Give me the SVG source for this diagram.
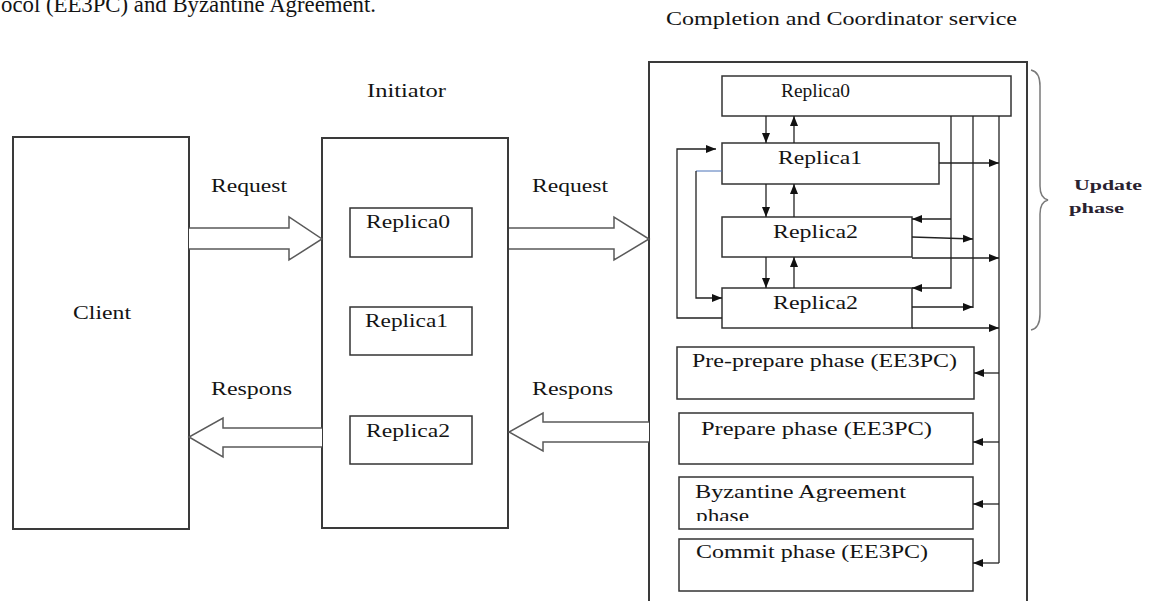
<svg xmlns="http://www.w3.org/2000/svg" width="1159" height="601" viewBox="0 0 1159 601">
  <style>
    text { font-family: "Liberation Serif", "Times New Roman", serif; fill: #141414; }
    .lbl { font-size: 18.5px; }
    .box { fill: #ffffff; stroke: #333333; stroke-width: 1.5; }
    .big { fill: #ffffff; stroke: #3a3a3a; stroke-width: 2; }
    .block { fill: #ffffff; stroke: #5a5a5a; stroke-width: 1.5; stroke-linejoin: miter; }
    .wire { fill: none; stroke: #222222; stroke-width: 1.3; }
    .wire-blue { fill: none; stroke: #4a72b8; stroke-width: 1; }
    .brace { fill: none; stroke: #7a7a7a; stroke-width: 1.5; }
    .upd { font-size: 15.5px; font-weight: bold; fill: #2a2230; }
  </style>
  <defs>
    <marker id="arr" markerUnits="userSpaceOnUse" markerWidth="10" markerHeight="10" viewBox="0 0 10 10" refX="10" refY="5" orient="auto">
      <path d="M0,1 L10,5 L0,9 Z" fill="#111111"/>
    </marker>
    <clipPath id="byzClip">
      <rect x="680" y="478" width="292" height="43"/>
    </clipPath>
  </defs>

  <!-- page text running into the figure from above -->
  <text x="1" y="12" style="font-size:23px" fill="#111" textLength="375" lengthAdjust="spacingAndGlyphs">ocol (EE3PC) and Byzantine Agreement.</text>

  <!-- client -->
  <g id="client">
    <rect class="big" x="13" y="137" width="176" height="392"/>
    <text class="lbl" x="73" y="319" textLength="58" lengthAdjust="spacingAndGlyphs">Client</text>
  </g>

  <!-- initiator with its replicas -->
  <g id="initiator">
    <text class="lbl" x="367" y="97" textLength="79" lengthAdjust="spacingAndGlyphs">Initiator</text>
    <rect class="big" x="322" y="138" width="186" height="390"/>
  </g>
  <g id="init-replica0">
    <rect class="box" x="350" y="208" width="122" height="49"/>
    <text class="lbl" x="366" y="228" textLength="84" lengthAdjust="spacingAndGlyphs">Replica0</text>
  </g>
  <g id="init-replica1">
    <rect class="box" x="350" y="307" width="122" height="48"/>
    <text class="lbl" x="365" y="327" textLength="83" lengthAdjust="spacingAndGlyphs">Replica1</text>
  </g>
  <g id="init-replica2">
    <rect class="box" x="350" y="416" width="122" height="48"/>
    <text class="lbl" x="366" y="437" textLength="84" lengthAdjust="spacingAndGlyphs">Replica2</text>
  </g>

  <!-- completion and coordinator service -->
  <g id="coordinator">
    <text class="lbl" x="666" y="25" textLength="351" lengthAdjust="spacingAndGlyphs">Completion and Coordinator service</text>
    <rect class="big" x="649" y="62" width="378" height="560"/>
  </g>
  <g id="cc-replica0">
    <rect class="box" x="722" y="76" width="289" height="40"/>
    <text class="lbl" x="781" y="97" textLength="69" lengthAdjust="spacingAndGlyphs">Replica0</text>
  </g>
  <g id="cc-replica1">
    <rect class="box" x="722" y="143" width="217" height="41"/>
    <text class="lbl" x="778" y="164" textLength="84" lengthAdjust="spacingAndGlyphs">Replica1</text>
  </g>
  <g id="cc-replica2a">
    <rect class="box" x="722" y="217" width="190" height="40"/>
    <text class="lbl" x="773" y="238" textLength="85" lengthAdjust="spacingAndGlyphs">Replica2</text>
  </g>
  <g id="cc-replica2b">
    <rect class="box" x="722" y="288" width="190" height="40"/>
    <text class="lbl" x="773" y="309" textLength="85" lengthAdjust="spacingAndGlyphs">Replica2</text>
  </g>
  <g id="pre-prepare">
    <rect class="box" x="677" y="347" width="297" height="52"/>
    <text class="lbl" x="692" y="367" textLength="265" lengthAdjust="spacingAndGlyphs">Pre-prepare phase (EE3PC)</text>
  </g>
  <g id="prepare">
    <rect class="box" x="679" y="413" width="294" height="51"/>
    <text class="lbl" x="701" y="435" textLength="231" lengthAdjust="spacingAndGlyphs">Prepare phase (EE3PC)</text>
  </g>
  <g id="byzantine">
    <rect class="box" x="679" y="477" width="294" height="52"/>
    <text class="lbl" x="695" y="498" textLength="211" lengthAdjust="spacingAndGlyphs">Byzantine Agreement</text>
    <text class="lbl" x="696" y="522" textLength="53" lengthAdjust="spacingAndGlyphs" clip-path="url(#byzClip)">phase</text>
  </g>
  <g id="commit">
    <rect class="box" x="679" y="539" width="294" height="52"/>
    <text class="lbl" x="696" y="558" textLength="232" lengthAdjust="spacingAndGlyphs">Commit phase (EE3PC)</text>
  </g>

  <!-- update phase brace -->
  <g id="update-phase">
    <path class="brace" d="M1031,70 Q1040,72 1040,86 L1040,186 Q1040,198 1048,200 Q1040,202 1040,214 L1040,314 Q1040,328 1031,330"/>
    <text class="upd" x="1074" y="190" textLength="68" lengthAdjust="spacingAndGlyphs">Update</text>
    <text class="upd" x="1069" y="213" textLength="55" lengthAdjust="spacingAndGlyphs">phase</text>
  </g>

  <!-- connectors -->
  <g id="connectors">
    <!-- hollow block arrows between the three parties -->
    <path class="block" d="M189,228 H289 V217 L322,239 L289,260 V249 H189"/>
    <path class="block" d="M509,228 H614 V217 L649,239 L614,260 V249 H509"/>
    <path class="block" d="M322,428 H223 V418 L189,437 L223,457 V447 H322"/>
    <path class="block" d="M649,422 H543 V413 L509,432 L543,451 V442 H649"/>
    <text class="lbl" x="211" y="192" textLength="76" lengthAdjust="spacingAndGlyphs">Request</text>
    <text class="lbl" x="532" y="192" textLength="76" lengthAdjust="spacingAndGlyphs">Request</text>
    <text class="lbl" x="211" y="395" textLength="81" lengthAdjust="spacingAndGlyphs">Respons</text>
    <text class="lbl" x="532" y="395" textLength="81" lengthAdjust="spacingAndGlyphs">Respons</text>

    <!-- replica chain, down and up -->
    <path class="wire" d="M766,116 V143" marker-end="url(#arr)"/>
    <path class="wire" d="M794,143 V116" marker-end="url(#arr)"/>
    <path class="wire" d="M766,184 V217" marker-end="url(#arr)"/>
    <path class="wire" d="M794,217 V184" marker-end="url(#arr)"/>
    <path class="wire" d="M766,257 V288" marker-end="url(#arr)"/>
    <path class="wire" d="M794,288 V257" marker-end="url(#arr)"/>

    <!-- bus from Replica0 back into the lower replicas -->
    <path class="wire" d="M951,116 V288 H912" marker-end="url(#arr)"/>
    <path class="wire" d="M951,219 H912" marker-end="url(#arr)"/>

    <!-- collector bus at x=973 -->
    <path class="wire" d="M973,116 V308"/>
    <path class="wire" d="M912,237 L973,239" marker-end="url(#arr)"/>
    <path class="wire" d="M912,307 H973" marker-end="url(#arr)"/>

    <!-- main bus at x=999 feeding the phases -->
    <path class="wire" d="M999,116 V563"/>
    <path class="wire" d="M939,163 H999" marker-end="url(#arr)"/>
    <path class="wire" d="M912,258 H999" marker-end="url(#arr)"/>
    <path class="wire" d="M912,328 H999" marker-end="url(#arr)"/>
    <path class="wire" d="M999,373 H974" marker-end="url(#arr)"/>
    <path class="wire" d="M999,442 H973" marker-end="url(#arr)"/>
    <path class="wire" d="M999,504 H973" marker-end="url(#arr)"/>
    <path class="wire" d="M999,563 H973" marker-end="url(#arr)"/>

    <!-- feedback loops on the left -->
    <path class="wire" d="M722,318 H677 V149 H716" marker-end="url(#arr)"/>
    <path class="wire-blue" d="M722,171 H696"/>
    <path class="wire" d="M696,171 V298 H722" marker-end="url(#arr)"/>
  </g>
</svg>
